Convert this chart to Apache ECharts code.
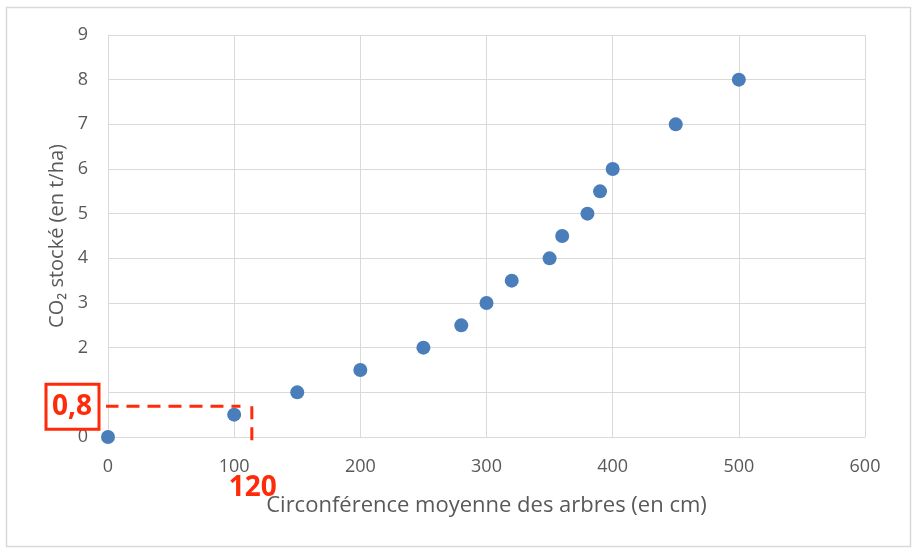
<!DOCTYPE html>
<html><head><meta charset="utf-8">
<script src="https://cdn.jsdelivr.net/npm/echarts@6/dist/echarts.min.js"></script>
<style>html,body{margin:0;padding:0;background:#fff}#c{width:919px;height:556px}</style>
</head><body><div id="c"></div>
<script>
const circumference = [0, 100, 150, 200, 250, 280, 300, 320, 350, 360, 380, 390, 400, 450, 500];
const co2 = [0, 0.5, 1, 1.5, 2, 2.5, 3, 3.5, 4, 4.5, 5, 5.5, 6, 7, 8];
const readY = 0.69;      // value of horizontal dashed reading line
const readX = 114;       // value of vertical dashed reading line
const readYLabel = '0,8';
const readXLabel = '120';
const xTitle = 'Circonférence moyenne des arbres (en cm)';
const yTitle = 'CO₂ stocké (en t/ha)';

const chart = echarts.init(document.getElementById('c'));
const font = '"Open Sans", "Liberation Sans", sans-serif';
const red = '#ff2a0a';
chart.setOption({
  animation: false,
  grid: {left: 108, right: 54, top: 35, bottom: 119},
  xAxis: {
    type: 'value', min: 0, max: 600, interval: 100,
    name: xTitle, nameLocation: 'middle', nameGap: 58,
    nameTextStyle: {fontFamily: font, fontSize: 22, color: '#595959'},
    axisLine: {show: true, lineStyle: {color: '#d9d9d9'}},
    axisTick: {show: false},
    axisLabel: {fontFamily: font, fontSize: 18, color: '#595959', margin: 21},
    splitLine: {show: true, lineStyle: {color: '#d9d9d9'}}
  },
  yAxis: {
    type: 'value', min: 0, max: 9, interval: 1,
    name: yTitle, nameLocation: 'middle', nameGap: 40,
    nameTextStyle: {fontFamily: font, fontSize: 20, color: '#595959'},
    axisLine: {show: true, lineStyle: {color: '#d9d9d9'}},
    axisTick: {show: false},
    axisLabel: {fontFamily: font, fontSize: 18, color: '#595959', margin: 20},
    splitLine: {show: true, lineStyle: {color: '#d9d9d9'}}
  },
  series: [
    {
      type: 'scatter', symbolSize: 14,
      itemStyle: {color: '#4a7ebb', opacity: 1},
      data: circumference.map((x, i) => [x, co2[i]]),
      z: 3
    },
    {
      type: 'line', clip: false, symbol: 'none', silent: true,
      lineStyle: {color: red, width: 3, type: [13, 8]},
      data: [[-2, readY], [readX - 9, readY]], z: 4
    },
    {
      type: 'line', clip: false, symbol: 'none', silent: true,
      lineStyle: {color: red, width: 3, type: [13, 8]},
      data: [[readX, readY], [readX, -0.14]], z: 4
    }
  ]
});

const pY = chart.convertToPixel({gridIndex: 0}, [0, readY]);
const pX = chart.convertToPixel({gridIndex: 0}, [readX, 0]);
chart.setOption({
  graphic: [
    {type: 'rect', shape: {x: 6.5, y: 7.5, width: 904, height: 539}, style: {fill: 'none', stroke: '#d9d9d9', lineWidth: 1.5}, z: 0, silent: true},
    {type: 'rect', shape: {x: pY[0] - 62, y: pY[1] - 22, width: 53, height: 45}, style: {fill: '#fff', stroke: red, lineWidth: 3}, z: 10},
    {type: 'text', x: pY[0] - 36, y: pY[1] + 1, style: {text: readYLabel, fill: red, font: 'bold 28px ' + font, align: 'center', verticalAlign: 'middle'}, z: 11},
    {type: 'text', x: pX[0] + 1, y: pX[1] + 51, style: {text: readXLabel, fill: red, font: 'bold 28px ' + font, align: 'center', verticalAlign: 'middle'}, z: 11}
  ]
});
</script></body></html>
